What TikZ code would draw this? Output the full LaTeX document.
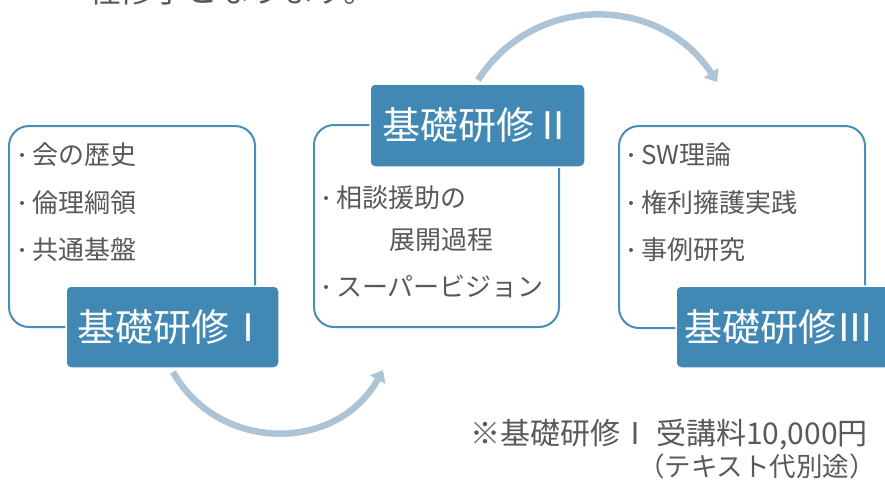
\documentclass[tikz,border=0pt]{standalone}
\usepackage{fontspec}
\newfontfamily\jp{Noto Sans CJK JP}
\usetikzlibrary{arrows.meta}
\definecolor{outl}{HTML}{4A8DB8}
\definecolor{titlefill}{HTML}{4189B4}
\definecolor{arr}{HTML}{ADC3D6}
\definecolor{txt}{HTML}{595959}
\begin{document}
\begin{tikzpicture}[x=1pt,y=-1pt,
  outline/.style={draw=outl, line width=2pt, rounded corners=20pt, fill=white, inner sep=0pt},
  titlebox/.style={fill=titlefill, draw=white, line width=1.5pt, rounded corners=5pt, text=white, font=\jp\fontsize{38}{38}\selectfont, inner sep=0pt},
  item/.style={anchor=west, inner sep=0pt, text=txt, font=\jp\fontsize{26}{26}\selectfont},
  note/.style={anchor=west, inner sep=0pt, text=txt},
  flow/.style={draw=arr, line width=6.5pt, -{Triangle[width=17pt,length=11pt]}},
  bul/.style={fill=txt}
]
\useasboundingbox (0,0) rectangle (885,482);
\clip (0,0) rectangle (885,482);

% partially visible heading at the top
\node[anchor=base west, inner sep=0pt, text=txt, font=\jp\fontsize{32.5}{32.5}\selectfont] (head) at (88,2) {程修了となります。};

% outline boxes
\node[outline, minimum width=246pt, minimum height=201pt] (b1) at (132,226.5) {};
\node[outline, minimum width=245pt, minimum height=202pt] (b2) at (436.5,226) {};
\node[outline, minimum width=246pt, minimum height=202pt] (b3) at (742,227) {};

% title boxes
\node[titlebox, minimum width=213pt, minimum height=82pt] (t1) at (172.5,327) {基礎研修Ⅰ};
\node[titlebox, minimum width=215pt, minimum height=83pt] (t2) at (477.5,125.5) {基礎研修Ⅱ};
\node[titlebox, minimum width=219pt, minimum height=82pt] (t3) at (785.5,327) {\hspace*{-12pt}基礎研修Ⅲ};

% items box I
\node[item] (i11) at (32,155) {会の歴史};
\node[item] (i12) at (32,203) {倫理綱領};
\node[item] (i13) at (32,250) {共通基盤};
% items box II
\node[item] (i21) at (336,198) {相談援助の};
\node[item] (i22) at (389,240) {展開過程};
\node[item] (i23) at (336,287) {スーパービジョン};
% items box III
\node[item] (i31) at (641,155) {SW理論};
\node[item] (i32) at (641,203) {権利擁護実践};
\node[item] (i33) at (641,250) {事例研究};

% bullets
\foreach \n in {i11,i12,i13,i21,i23,i31,i32,i33}
  \fill[bul] ([xshift=-10pt]\n.west) circle (2pt);

% arrows
\coordinate (a1s) at (173,372);
\coordinate (a1e) at (383,370);
\coordinate (a2s) at (478,80);
\coordinate (a2e) at (717,82);
\draw[flow] (a1s) .. controls (219,453) and (337,453) .. (a1e);
\draw[flow] (a2s) .. controls (534.5,-7.4) and (660.5,-5.4) .. (a2e);

% note
\node[note, font=\jp\fontsize{30}{30}\selectfont] (n1) at (470,435) {※基礎研修Ⅰ\hspace{0.2em}受講料10,000円};
\node[note, font=\jp\fontsize{26.5}{26.5}\selectfont] (n2) at (638,466) {（テキスト代別途）};
\end{tikzpicture}
\end{document}
